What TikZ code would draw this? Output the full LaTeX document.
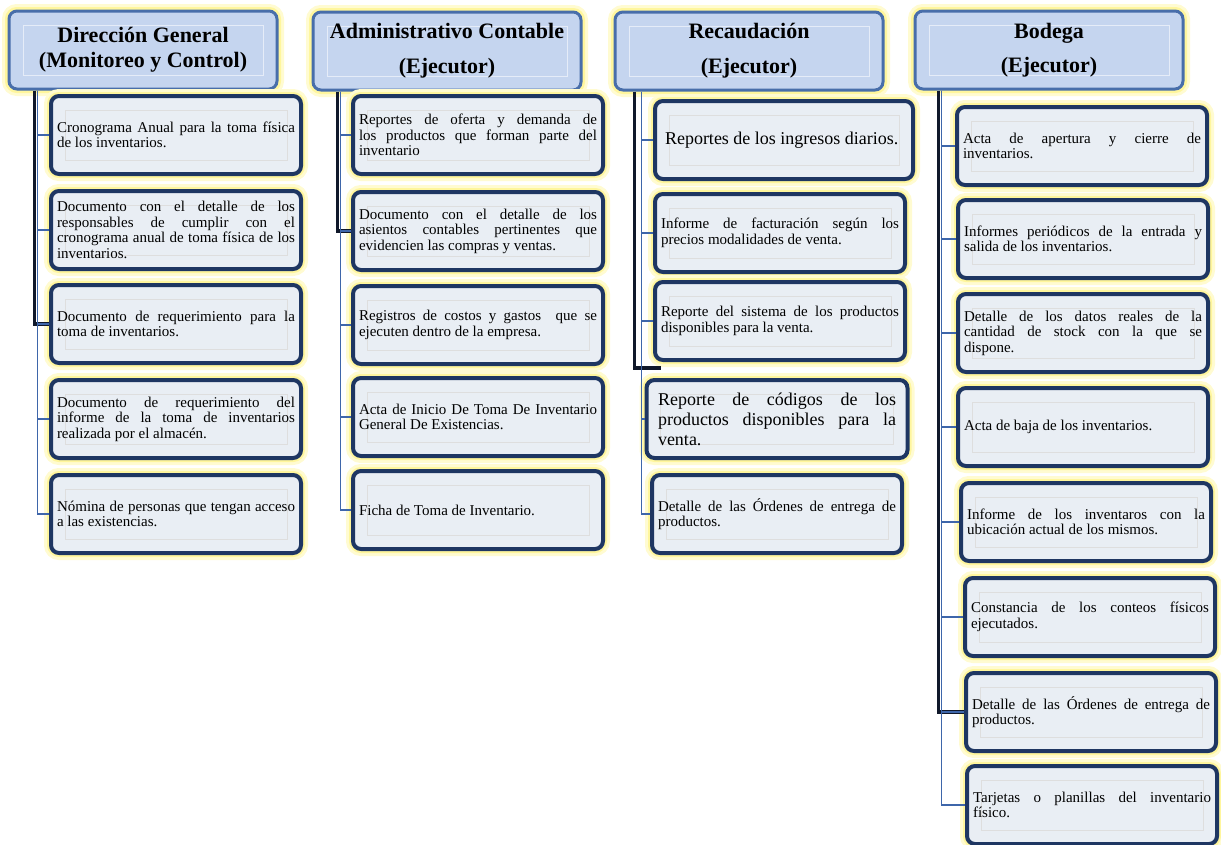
\documentclass[tikz,border=0pt]{standalone}
\usepackage{fontspec}
\setmainfont{Liberation Serif}
\usepackage{tikz}
\usepackage{xcolor}

\hyphenpenalty=10000
\exhyphenpenalty=10000
\tolerance=9999
\emergencystretch=20pt

\definecolor{hdrfill}{RGB}{197,213,239}
\definecolor{hdrline}{RGB}{72,110,170}
\definecolor{boxfill}{RGB}{233,238,244}
\definecolor{boxline}{RGB}{30,54,98}
\definecolor{linkblue}{RGB}{62,102,170}
\definecolor{glowc}{RGB}{255,244,140}
\definecolor{brk}{RGB}{16,24,42}

\tikzset{
  glowing/.style={preaction={draw=glowc!40,line width=14pt},preaction={draw=glowc!85,line width=8pt}},
  hdr/.style={glowing, rounded corners=8pt, draw=hdrline, line width=3pt, fill=hdrfill,
    align=center, minimum width=268pt, minimum height=78pt,
    font=\bfseries\fontsize{22}{25}\selectfont,
    path picture={\draw[white!55!hdrfill,line width=1pt,sharp corners] ([shift={(14pt,14pt)}]path picture bounding box.south west) rectangle ([shift={(-14pt,-14pt)}]path picture bounding box.north east);}},
  item/.style={glowing, rounded corners=8pt, draw=boxline, line width=4pt, fill=boxfill,
    text width=238pt, inner xsep=6pt, minimum width=250pt, minimum height=78pt, align=justify,
    font={\fontsize{15}{15.5}\selectfont\spaceskip=.25em plus .6em\relax},
    path picture={\draw[black!13,line width=.8pt,sharp corners] ([shift={(14pt,14pt)}]path picture bounding box.south west) rectangle ([shift={(-14pt,-14pt)}]path picture bounding box.north east);}},
  big/.style={item, font={\fontsize{18}{20}\selectfont\spaceskip=.25em plus .6em\relax}},
  link/.style={draw=linkblue, line width=1.2pt},
  bracket/.style={draw=brk, line width=3.5pt}
}

\begin{document}
\begin{tikzpicture}[x=1pt,y=-1pt]
            \useasboundingbox (0,0) rectangle (1221,844);

            \draw
            (143,50) node[hdr](h1) {Dirección General\\(Monitoreo y Control)}
            (447,51) node[hdr](h2) {Administrativo Contable\\[10pt](Ejecutor)}
            (749,51) node[hdr](h3) {Recaudación\\[10pt](Ejecutor)}
            (1049,50) node[hdr](h4) {Bodega\\[9pt](Ejecutor)} ;

            \draw
            (176,135) node[item](d1) {Cronograma Anual para la toma física de los inventarios.}
            (176,230) node[item](d2) {Documento con el detalle de los responsables de cumplir con el cronograma anual de toma física de los\linebreak inventarios.}
            (176,324) node[item](d3) {Documento de requerimiento para la toma de inventarios.}
            (176,419) node[item](d4) {Documento de requerimiento del informe de la toma de inventarios realizada por el almacén.}
            (176,514) node[item](d5) {Nómina de personas que tengan acceso a las existencias.} ;

            \draw
            (478,135) node[item](a1) {Reportes de oferta y demanda de los productos que forman parte del inventario}
            (478,231) node[item](a2) {Documento con el detalle de los asientos contables pertinentes que evidencien las compras y ventas.}
            (478,325) node[item](a3) {Registros de costos y gastos\ \ que se ejecuten dentro de la empresa.}
            (478,417) node[item](a4) {Acta de Inicio De Toma De Inventario General De Existencias.}
            (478,510) node[item](a5) {Ficha de Toma de Inventario.} ;

            \draw
            (784,140) node[big, minimum width=258pt](r1) {Reportes de los ingresos diarios.}
            (780,233) node[item](r2) {Informe de facturación según los precios modalidades de venta.}
            (780,321) node[item](r3) {Reporte del sistema de los productos disponibles para la venta.}
            (777,419) node[big, minimum width=261pt](r4) {Reporte de códigos de los productos disponibles para la venta.}
            (777,514) node[item](r5) {Detalle de las Órdenes de entrega de productos.} ;

            \draw
            (1082,146) node[item](b1) {Acta de apertura y cierre de\linebreak inventarios.}
            (1083,239) node[item](b2) {Informes periódicos de la entrada y salida de los inventarios.}
            (1083,333) node[item](b3) {Detalle de los datos reales de la cantidad de stock con la que se\linebreak dispone.}
            (1083,427) node[item](b4) {Acta de baja de los inventarios.}
            (1086,522) node[item](b5) {Informe de los inventaros con la ubicación actual de los mismos.}
            (1090,617) node[item](b6) {Constancia de los conteos físicos ejecutados.}
            (1091,712) node[item](b7) {Detalle de las Órdenes de entrega de productos.}
            (1092,805) node[item](b8) {Tarjetas o planillas del inventario físico.} ;

            \draw[bracket] ([xshift=27pt]h1.south west) |- (d3.west);
            \draw[bracket] ([xshift=26pt]h2.south west) |- (a2.west);
            \draw[bracket] ([xshift=21pt]h3.south west) |- ([xshift=8pt,yshift=-6pt]r3.south west);
            \draw[bracket] ([xshift=25pt]h4.south west) |- (b7.west);

            \draw[link] ([xshift=30pt]h1.south west) |- (d1.west);
            \draw[link] ([xshift=30pt]h1.south west) |- (d2.west);
            \draw[link] ([xshift=30pt]h1.south west) |- (d3.west);
            \draw[link] ([xshift=30pt]h1.south west) |- (d4.west);
            \draw[link] ([xshift=30pt]h1.south west) |- (d5.west);

            \draw[link] ([xshift=29pt]h2.south west) |- (a1.west);
            \draw[link] ([xshift=29pt]h2.south west) |- (a2.west);
            \draw[link] ([xshift=29pt]h2.south west) |- (a3.west);
            \draw[link] ([xshift=29pt]h2.south west) |- (a4.west);
            \draw[link] ([xshift=29pt]h2.south west) |- (a5.west);

            \draw[link] ([xshift=28pt]h3.south west) |- (r1.west);
            \draw[link] ([xshift=28pt]h3.south west) |- (r2.west);
            \draw[link] ([xshift=28pt]h3.south west) |- (r3.west);
            \draw[link] ([xshift=28pt]h3.south west) |- (r4.west);
            \draw[link] ([xshift=28pt]h3.south west) |- (r5.west);

            \draw[link] ([xshift=28pt]h4.south west) |- (b1.west);
            \draw[link] ([xshift=28pt]h4.south west) |- (b2.west);
            \draw[link] ([xshift=28pt]h4.south west) |- (b3.west);
            \draw[link] ([xshift=28pt]h4.south west) |- (b4.west);
            \draw[link] ([xshift=28pt]h4.south west) |- (b5.west);
            \draw[link] ([xshift=28pt]h4.south west) |- (b6.west);
            \draw[link] ([xshift=28pt]h4.south west) |- (b7.west);
            \draw[link] ([xshift=28pt]h4.south west) |- (b8.west);
        \end{tikzpicture}
\end{document}
